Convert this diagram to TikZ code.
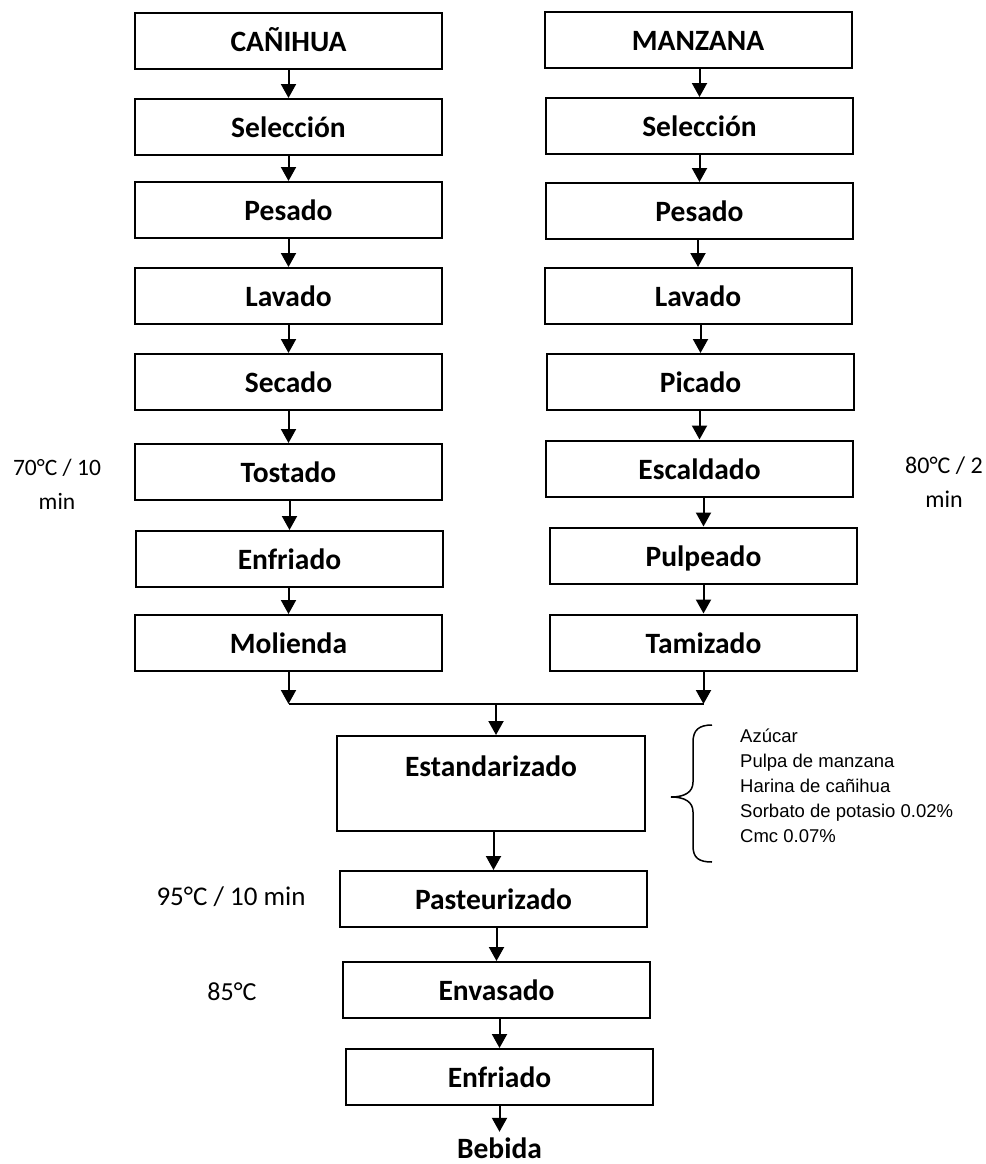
\documentclass[tikz,border=0pt]{standalone}
\usepackage{fontspec}
\setmainfont{Carlito}
\newfontfamily\arialf{Liberation Sans}
\usetikzlibrary{arrows.meta,calc}
\begin{document}
\begin{tikzpicture}[x=1pt,y=-1pt,
  box/.style={draw,line width=2pt,minimum width=307pt,minimum height=56pt,inner sep=0pt,text height=24pt,text depth=3pt,font=\fontsize{29.5}{34}\selectfont\bfseries},
  arr/.style={line width=2pt,-{Triangle[width=15pt,length=14pt]}},
  lin/.style={line width=2pt},
  side/.style={font=\fontsize{25}{34}\selectfont,align=center,inner sep=0pt},
  ingr/.style={font=\arialf\fontsize{18.5}{25}\selectfont,anchor=base west,inner sep=0pt}]
\useasboundingbox (0,0) rectangle (985,1164);
% left column
\node[box] (can) at (288.5,41) {CAÑIHUA};
\node[box] (sel1) at (288.5,127) {Selección};
\node[box] (pes1) at (288.5,210) {Pesado};
\node[box] (lav1) at (288.5,296) {Lavado};
\node[box] (sec1) at (288.5,382) {Secado};
\node[box] (tos1) at (288.5,472) {Tostado};
\node[box] (enf1) at (289.5,559) {Enfriado};
\node[box] (mol1) at (288.5,643) {Molienda};
% right column
\node[box] (man) at (698,40.5) {MANZANA};
\node[box] (sel2) at (699.5,126) {Selección};
\node[box] (pes2) at (699.5,211) {Pesado};
\node[box] (lav2) at (698,296) {Lavado};
\node[box] (pic2) at (700.5,382) {Picado};
\node[box] (esc2) at (699.5,468.5) {Escaldado};
\node[box] (pul2) at (703.5,555.5) {Pulpeado};
\node[box] (tam2) at (703.5,642.5) {Tamizado};
% lower chain
\node[box,minimum width=308pt,minimum height=95pt,text height=40.5pt,text depth=54.5pt] (est) at (491,783.5) {Estandarizado};
\node[box] (pas) at (493.5,899) {Pasteurizado};
\node[box] (env) at (496.5,990) {Envasado};
\node[box] (enf2) at (499.5,1077) {Enfriado};
\node[font=\fontsize{29.5}{34}\selectfont\bfseries,inner sep=0pt,text height=23pt,text depth=0pt,anchor=base] (beb) at (499.5,1158) {Bebida};
% arrows
\foreach \a/\b in {can/sel1,sel1/pes1,pes1/lav1,lav1/sec1,sec1/tos1,tos1/enf1,enf1/mol1,
                   man/sel2,sel2/pes2,pes2/lav2,lav2/pic2,pic2/esc2,esc2/pul2,pul2/tam2,
                   est/pas,pas/env,env/enf2}
  \draw[arr] (\a.south -| \b.north) -- (\b.north);
\draw[arr] (enf2.south) -- ($(beb.north)+(0,-3)$);
% merge
\coordinate (jL) at ($(mol1.south)+(0,32)$);
\coordinate (jR) at (tam2.south |- jL);
\coordinate (jM) at ($(jL)!0.5!(jR)$);
\draw[arr] (mol1.south) -- (jL);
\draw[arr] (tam2.south) -- (jR);
\draw[lin] (jL) -- (jR);
\draw[arr] (jM) -- (jM |- est.north);
% side labels
\node[side,font=\fontsize{23.5}{34}\selectfont] (t1) at (57,484) {70°C / 10\\min};
\node[side,font=\fontsize{24}{34}\selectfont] (t2) at (944,482) {80°C / 2\\min};
\node[side,font=\fontsize{27}{34}\selectfont] (t3) at (231,897) {95°C / 10 min};
\node[side,font=\fontsize{26}{34}\selectfont] (t4) at (232,992) {85°C};
% brace and ingredients
\draw[line width=1.5pt] (712,725) .. controls (699,725) and (693,730) .. (693,742) -- (693,782)
  .. controls (693,792) and (685,797) .. (671,797)
  .. controls (685,797) and (693,802) .. (693,812) -- (693,846)
  .. controls (693,858) and (699,862) .. (712,862);
\node[ingr] (i1) at (740,742) {Azúcar};
\node[ingr] (i2) at (740,767) {Pulpa de manzana};
\node[ingr] (i3) at (740,792) {Harina de cañihua};
\node[ingr] (i4) at (740,817) {Sorbato de potasio 0.02\%};
\node[ingr] (i5) at (740,842) {Cmc 0.07\%};
\end{tikzpicture}
\end{document}
